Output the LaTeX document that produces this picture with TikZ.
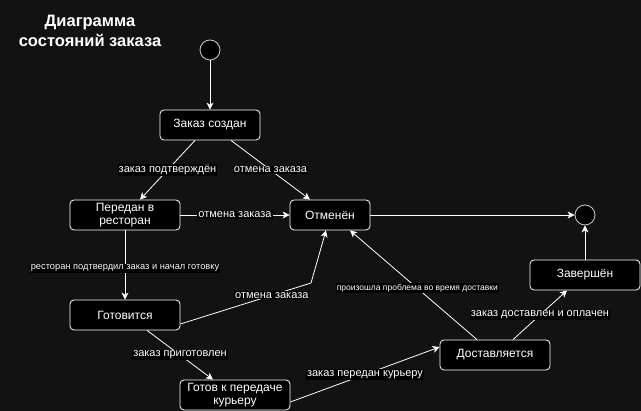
\documentclass[tikz,border=0pt]{standalone}
\usepackage{fontspec}
\setmainfont{Liberation Sans}
\usetikzlibrary{arrows.meta}

\begin{document}
\begin{tikzpicture}[x=1pt,y=-1pt,
  state/.style={draw=white,fill=black,text=white,rounded corners=4pt,line width=0.8pt,
    minimum width=110pt,minimum height=30pt,inner sep=1pt,align=center,font=\fontsize{12}{13}\selectfont},
  dot/.style={circle,draw=white!80!black,fill=black,line width=0.8pt,minimum size=20pt,inner sep=0pt},
  edge/.style={draw=white,line width=0.8pt,-{Stealth[length=7pt,width=7pt,inset=2pt]}},
  lbl/.style={fill=black,text=white,inner sep=1pt,font=\fontsize{11}{12}\selectfont},
  small/.style={lbl,font=\fontsize{8.5}{9}\selectfont}]
\fill[black!93] (0,0) rectangle (641,411);
\useasboundingbox (0,0) rectangle (641,411);
% title
\node[text=white,align=center,font=\bfseries\fontsize{16.5}{20}\selectfont] (title) at (90,31) {Диаграмма\\состояний заказа};
% states
\node[dot] (start) at (210,50) {};
\node[state,minimum width=100pt] (created) at (210,125) {Заказ создан};
\node[state] (rest) at (125,215) {Передан в\\ресторан};
\node[state,minimum width=80pt] (cancel) at (330,215) {Отменён};
\node[dot] (finish) at (585,215) {};
\node[state] (done) at (585,275) {Завершён};
\node[state] (cooking) at (125,315) {Готовится};
\node[state] (delivery) at (495,355) {Доставляется};
\node[state] (ready) at (235,395) {Готов к передаче\\курьеру};
% transitions
\draw[edge] (start) -- (created);
\draw[edge] ([xshift=-15pt]created.south) -- node[lbl]{заказ подтверждён} ([xshift=15pt]rest.north);
\draw[edge] ([xshift=21pt]created.south) -- node[lbl]{отмена заказа} ([xshift=-20pt]cancel.north);
\draw[edge] (rest) -- node[lbl]{отмена заказа} (cancel);
\draw[edge] (rest) -- node[small,font=\fontsize{9.3}{10}\selectfont,pos=0.55]{ресторан подтвердил заказ и начал готовку} (cooking);
\draw[edge] ([yshift=-9pt]cooking.east) -- node[lbl,pos=0.7]{отмена заказа} (311,283) -- ([xshift=-4pt]cancel.south);
\draw[edge] ([xshift=22pt]cooking.south) -- node[lbl]{заказ приготовлен} ([xshift=-22pt]ready.north);
\draw[edge] ([yshift=-7pt]ready.east) -- node[lbl]{заказ передан курьеру} ([yshift=8pt]delivery.west);
\draw[edge] ([xshift=-18pt]delivery.north) -- node[small,pos=0.47]{произошла проблема во время доставки} ([xshift=20pt]cancel.south);
\draw[edge] ([xshift=18pt]delivery.north) -- node[lbl]{заказ доставлен и оплачен} ([xshift=-18pt]done.south);
\draw[edge] (done) -- (finish);
\draw[edge] (cancel) -- (finish);
\end{tikzpicture}
\end{document}
